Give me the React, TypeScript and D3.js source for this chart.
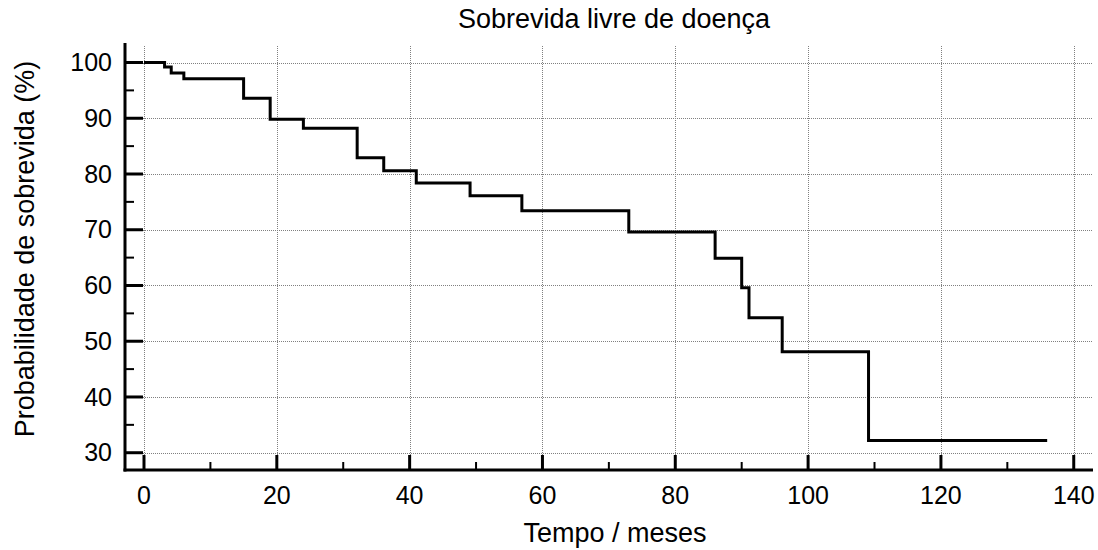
import React from 'react';
import * as d3 from 'd3';

// Kaplan-Meier steps: [time (months), survival % after that time]
const stepTimes = [0, 3.1, 4.1, 6.0, 15.0, 19.0, 24.0, 32.1, 36.1, 41.0, 49.1, 56.9, 73.0, 86.0, 90.0, 91.1, 96.1, 109.1];
const stepValues = [100, 99.2, 98.1, 97.1, 93.6, 89.8, 88.2, 82.9, 80.6, 78.4, 76.1, 73.4, 69.6, 64.9, 59.6, 54.2, 48.1, 32.2];
const lastTime = 136;

const xTicks = [0, 20, 40, 60, 80, 100, 120, 140];
const xMinor = [10, 30, 50, 70, 90, 110, 130];
const yTicks = [30, 40, 50, 60, 70, 80, 90, 100];
const yMinor = [35, 45, 55, 65, 75, 85, 95];

const W = 1098;
const H = 550;
const FONT = '"Liberation Sans", Arial, sans-serif';

export default function App() {
  const left = 125, right = 1093, top = 43, bottom = 470;

  const x = d3.scaleLinear().domain([-2.86, 142.9]).range([left, right]);
  const y = d3.scaleLinear().domain([26.9, 103.5]).range([bottom, top]);

  const pts: [number, number][] = stepTimes.map((t, i) => [t, stepValues[i]]);
  pts.push([lastTime, stepValues[stepValues.length - 1]]);
  const line = d3.line<[number, number]>()
    .x(d => x(d[0]))
    .y(d => y(d[1]))
    .curve(d3.curveStepAfter);

  return (
    <svg width={W} height={H} style={{ position: 'absolute', left: 0, top: 0, background: '#fff' }}>
      <rect width={W} height={H} fill="#fff" />
      {/* grid */}
      <g stroke="#808080" strokeWidth={1} strokeDasharray="1,1">
        {yTicks.map(v => (
          <line key={'gy' + v} x1={left} x2={1092} y1={Math.round(y(v)) + 0.5} y2={Math.round(y(v)) + 0.5} />
        ))}
        {xTicks.map(v => (
          <line key={'gx' + v} x1={Math.round(x(v)) + 0.5} x2={Math.round(x(v)) + 0.5} y1={46} y2={bottom} />
        ))}
      </g>

      {/* curve */}
      <path d={line(pts) ?? ''} fill="none" stroke="#000" strokeWidth={3} strokeLinejoin="miter" />

      {/* axes */}
      <g stroke="#000" strokeWidth={3}>
        <line x1={left} x2={left} y1={top} y2={bottom + 1.5} />
        <line x1={left - 1.5} x2={right} y1={bottom} y2={bottom} />
        {yTicks.map(v => (
          <line key={'ty' + v} x1={left} x2={left + 18} y1={y(v)} y2={y(v)} />
        ))}
        {yMinor.map(v => (
          <line key={'my' + v} x1={left} x2={left + 9} y1={y(v)} y2={y(v)} strokeWidth={2} />
        ))}
        {xTicks.map(v => (
          <line key={'tx' + v} x1={x(v)} x2={x(v)} y1={bottom} y2={bottom - 15} />
        ))}
        {xMinor.map(v => (
          <line key={'mx' + v} x1={x(v)} x2={x(v)} y1={bottom} y2={bottom - 8} strokeWidth={2} />
        ))}
      </g>

      {/* tick labels */}
      <g fontFamily={FONT} fontSize={25} fill="#000">
        {yTicks.map(v => (
          <text key={'ly' + v} x={112} y={y(v)} dy="0.35em" textAnchor="end">{v}</text>
        ))}
        {xTicks.map(v => (
          <text key={'lx' + v} x={x(v)} y={503.5} textAnchor="middle">{v}</text>
        ))}
      </g>

      {/* titles */}
      <text x={614} y={28} textAnchor="middle" fontFamily={FONT} fontSize={27} fill="#000">Sobrevida livre de doença</text>
      <text x={615} y={542} textAnchor="middle" fontFamily={FONT} fontSize={27} fill="#000">Tempo / meses</text>
      <text transform={`translate(34,249) rotate(-90)`} textAnchor="middle" fontFamily={FONT} fontSize={27} fill="#000">Probabilidade de sobrevida (%)</text>
    </svg>
  );
}
